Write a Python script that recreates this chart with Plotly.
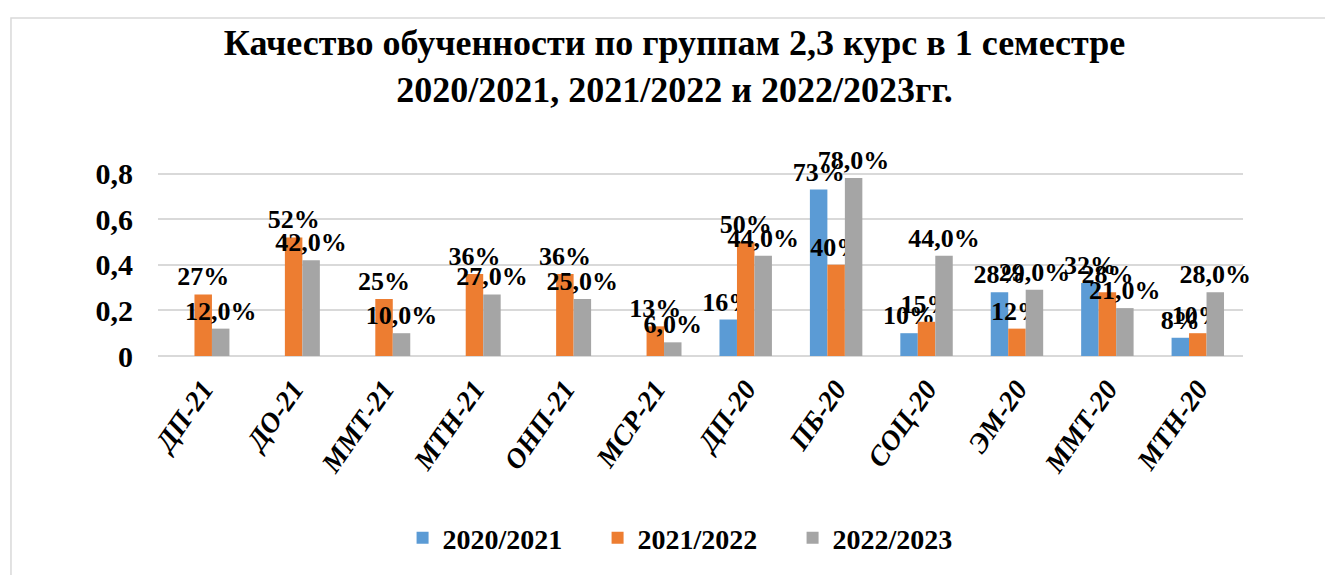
import plotly.graph_objects as go

categories = ["ДП-21", "ДО-21", "ММТ-21", "МТН-21", "ОНП-21", "МСР-21",
              "ДП-20", "ПБ-20", "СОЦ-20", "ЭМ-20", "ММТ-20", "МТН-20"]
s2020 = [None, None, None, None, None, None, 0.16, 0.73, 0.10, 0.28, 0.32, 0.08]
s2021 = [0.27, 0.52, 0.25, 0.36, 0.36, 0.13, 0.50, 0.40, 0.15, 0.12, 0.28, 0.10]
s2022 = [0.12, 0.42, 0.10, 0.27, 0.25, 0.06, 0.44, 0.78, 0.44, 0.29, 0.21, 0.28]
series_names = ["2020/2021", "2021/2022", "2022/2023"]
tick_vals = [0, 0.2, 0.4, 0.6, 0.8]
tick_text = ["0", "0,2", "0,4", "0,6", "0,8"]

colors = ["#5B9BD5", "#ED7D31", "#A5A5A5"]
font_family = "Liberation Serif, Times New Roman, serif"


def fmt(v, dec):
    if v is None:
        return ""
    return "<b>" + (f"{v*100:.{dec}f}%").replace(".", ",") + "</b>"


fig = go.Figure()
for name, vals, col, dec in zip(series_names, [s2020, s2021, s2022], colors, [0, 0, 1]):
    fig.add_trace(go.Bar(
        x=categories, y=vals, name=f"<b>{name}</b>",
        marker=dict(color=col, line=dict(width=0)),
        text=[fmt(v, dec) for v in vals],
        textposition="outside",
        constraintext="none",
        textfont=dict(family=font_family, size=26, color="black"),
        cliponaxis=False,
    ))

fig.update_layout(
    width=1333, height=575,
    paper_bgcolor="white", plot_bgcolor="white",
    barmode="group", bargap=0.42, bargroupgap=0,
    margin=dict(l=150, r=98, t=161, b=227),
    title=dict(
        text="<b>Качество обученности по группам 2,3 курс в 1 семестре<br>2020/2021, 2021/2022 и 2022/2023гг.</b>",
        x=0.5, xanchor="center", xref="container",
        y=0.918, yanchor="top", yref="container",
        font=dict(family=font_family, size=36, color="black"),
    ),
    font=dict(family=font_family, color="black"),
    showlegend=True,
    legend=dict(orientation="h", x=0.495, xanchor="center", y=-0.974, yanchor="middle",
                font=dict(family=font_family, size=28, color="black"),
                entrywidth=150, entrywidthmode="pixels",
                traceorder="normal"),
    shapes=[dict(type="rect", xref="paper", yref="paper", x0=-0.1355, x1=1.0857, y0=-1.3, y1=1.807,
                 line=dict(color="#d9d9d9", width=1.5), layer="below")],
)
fig.update_yaxes(range=[0, 0.82], tickvals=tick_vals, ticktext=[f"<b>{t}</b>" for t in tick_text],
                 tickfont=dict(family=font_family, size=30, color="black"),
                 showgrid=True, gridcolor="#d9d9d9", gridwidth=1.5,
                 zeroline=True, zerolinecolor="#d9d9d9", zerolinewidth=1.5,
                 showline=False, ticks="", ticklabelstandoff=24)
fig.update_xaxes(tickangle=-55, tickvals=categories,
                 ticktext=[f"<b><i>{c}</i></b>" for c in categories],
                 tickfont=dict(family=font_family, size=28, color="black"),
                 showline=False, ticks="", ticklabelstandoff=10)

fig.write_html("out.html")
